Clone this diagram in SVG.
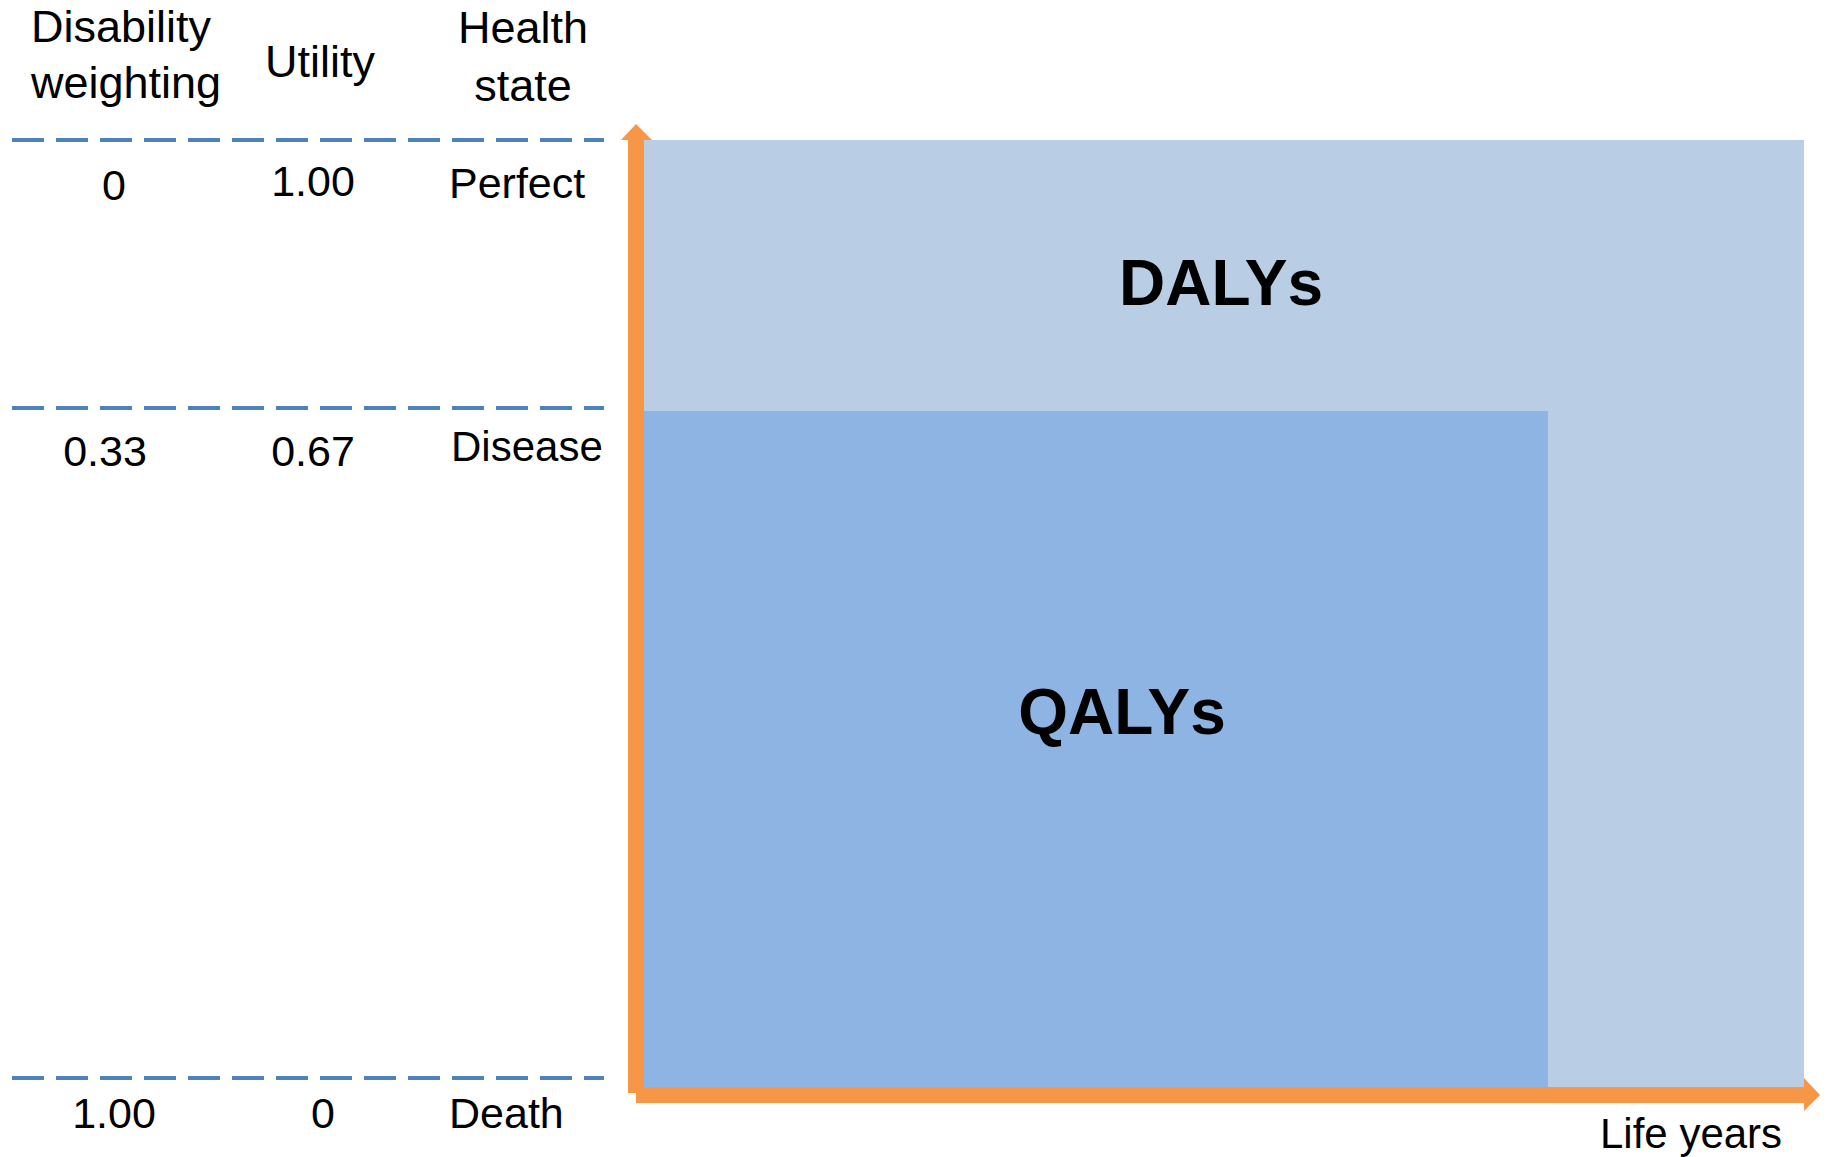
<svg xmlns="http://www.w3.org/2000/svg" width="1827" height="1157" viewBox="0 0 1827 1157">
<style>
.t{font-family:"Liberation Sans",Arial,sans-serif;font-size:43px;fill:#000}
.h{font-size:45px}
.b{font-family:"Liberation Sans",Arial,sans-serif;font-weight:bold;font-size:64px;fill:#000;text-anchor:middle}
.m{text-anchor:middle}
.dash{stroke:#4f81bd;stroke-width:4;stroke-dasharray:32 12;fill:none}
.ax{fill:#f79646}
</style>
<rect width="1827" height="1157" fill="#fff"/>
<g id="dalys">
<rect x="644" y="140" width="1160" height="947" fill="#b9cde5"/>
<text class="b" x="1221" y="305">DALYs</text>
</g>
<g id="qalys">
<rect x="644" y="411" width="904" height="676" fill="#8eb4e3"/>
<text class="b" x="1122" y="734">QALYs</text>
</g>
<g id="connectors">
<line class="dash" x1="12" y1="140" x2="604" y2="140"/>
<line class="dash" x1="12" y1="408" x2="604" y2="408"/>
<line class="dash" x1="12" y1="1078" x2="604" y2="1078"/>
<polygon class="ax" points="628,1093 628,140 621,140 636,124 652,140 644,140 644,1093"/>
<polygon class="ax" points="636,1087 1804,1087 1804,1078 1820,1095 1804,1111 1804,1103 636,1103"/>
</g>
<g id="headers">
<text class="t h" x="31" y="42">Disability</text>
<text class="t h" x="31" y="98">weighting</text>
<text class="t h m" x="320" y="77">Utility</text>
<text class="t h m" x="523" y="43">Health</text>
<text class="t h m" x="523" y="101">state</text>
</g>
<g id="row-perfect">
<text class="t m" x="114" y="200">0</text>
<text class="t m" x="313" y="196">1.00</text>
<text class="t" x="449" y="198">Perfect</text>
</g>
<g id="row-disease">
<text class="t m" x="105" y="466">0.33</text>
<text class="t m" x="313" y="466">0.67</text>
<text class="t" x="451" y="461" style="font-size:42px">Disease</text>
</g>
<g id="row-death">
<text class="t m" x="114" y="1128">1.00</text>
<text class="t m" x="323" y="1128">0</text>
<text class="t" x="449" y="1128">Death</text>
</g>
<g id="axis-label">
<text class="t" x="1600" y="1148" style="font-size:42px">Life years</text>
</g>
</svg>
